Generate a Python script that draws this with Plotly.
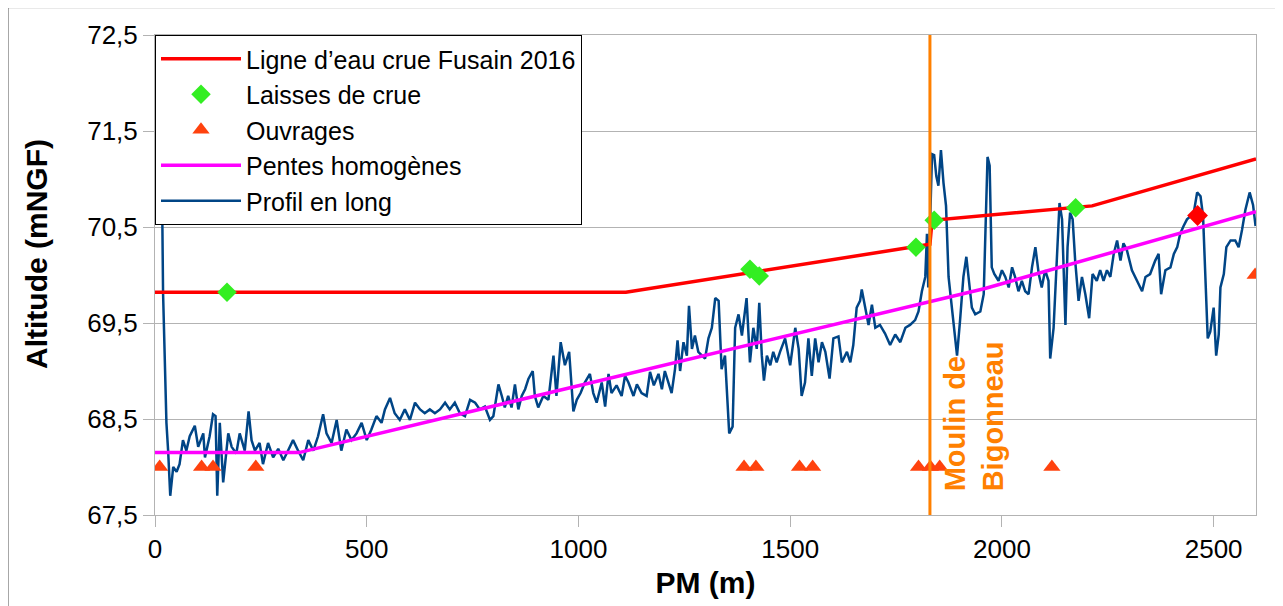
import plotly.graph_objects as go

# ---- Data ----
pm_crue = [0, 1112, 1830, 1835, 2213, 2600]
alt_crue = [69.82, 69.82, 70.32, 70.57, 70.72, 71.21]

pm_laisses = [170, 1405, 1427, 1797, 1840, 2174]
alt_laisses = [69.82, 70.06, 69.99, 70.29, 70.57, 70.70]

pm_laisse_rouge = [2462]
alt_laisse_rouge = [70.62]

pm_ouvrages = [11, 110, 137, 238, 1391, 1419, 1522, 1553, 1803, 1831, 1853, 2118, 2598]
alt_ouvrages = [68.0, 68.0, 68.0, 68.0, 68.0, 68.0, 68.0, 68.0, 68.0, 68.0, 68.0, 68.0, 70.0]

pm_pentes = [0, 340, 1960, 2600]
alt_pentes = [68.15, 68.15, 69.86, 70.66]

pm_profil = [12, 17, 19, 23, 27, 31, 36, 43, 51, 58, 66, 74, 82, 94, 102, 114, 118, 129, 137, 143,
             147, 153, 161, 173, 181, 192, 200, 212, 221, 228, 236, 247, 255, 267, 279, 291, 303, 314,
             326, 338, 350, 362, 374, 385, 397, 405, 417, 429, 440, 452, 464, 476, 488, 500, 511, 523,
             535, 543, 555, 566, 578, 590, 602, 614, 626, 637, 649, 661, 673, 685, 696, 708, 720, 732,
             744, 756, 767, 779,
             791, 799, 811, 819, 826, 834, 842, 850, 858, 866, 874, 882, 892, 897, 905, 917, 929, 941,
             948, 958, 968, 978, 988, 996, 1005, 1015, 1027, 1035, 1043, 1055, 1063, 1071, 1078, 1090,
             1102, 1110, 1118, 1130, 1138, 1149, 1161, 1169, 1178, 1189, 1197, 1204, 1220, 1228, 1234,
             1240, 1248, 1256, 1261, 1268, 1275, 1283, 1291, 1299, 1307, 1315, 1323, 1331, 1338, 1346,
             1356, 1364, 1370, 1378, 1386, 1397, 1405, 1413, 1421, 1427, 1433, 1438, 1445, 1453, 1460,
             1468, 1476, 1488, 1500, 1512, 1520, 1527, 1535, 1543, 1551, 1559, 1567, 1575, 1583, 1593,
             1602, 1614, 1622, 1634,
             1642, 1649, 1657, 1665, 1669, 1677, 1685, 1693, 1701, 1712, 1724, 1736, 1748, 1760, 1772,
             1783, 1795, 1803, 1811, 1819, 1823, 1826, 1829, 1832, 1835, 1840, 1845, 1850, 1856, 1862,
             1868, 1874, 1882, 1888, 1894, 1901, 1909, 1916, 1921, 1929, 1937, 1949, 1957, 1963, 1966,
             1971, 1976, 1982, 1992, 2000, 2008, 2016, 2024, 2031, 2039, 2047, 2055, 2063, 2071, 2079,
             2087, 2094, 2102, 2110, 2114, 2122, 2130, 2136, 2142, 2150, 2155, 2161, 2167, 2173, 2181,
             2189, 2197, 2206, 2214, 2224, 2232, 2240, 2248, 2256, 2264, 2272, 2280, 2287, 2295, 2307,
             2319, 2331, 2339, 2350, 2362, 2370, 2376, 2386, 2398, 2406, 2414, 2421, 2429, 2437, 2445,
             2453, 2461, 2469, 2475, 2480, 2486, 2492, 2500, 2506, 2512, 2516, 2524, 2530, 2540, 2551,
             2559, 2567, 2575, 2585, 2593, 2599]
alt_profil = [71.60, 70.72, 69.82, 69.16, 68.46, 68.17, 67.70, 68.00, 67.95, 68.03, 68.28, 68.17, 68.32,
              68.43, 68.21, 68.35, 68.10, 68.32, 68.55, 68.53, 67.70, 68.46, 67.84, 68.35, 68.21, 68.14,
              68.35, 68.17, 68.58, 68.28, 68.17, 68.25, 68.03, 68.25, 68.10, 68.19, 68.07, 68.17, 68.28,
              68.17, 68.07, 68.28, 68.17, 68.32, 68.55, 68.35, 68.25, 68.49, 68.17, 68.39, 68.28, 68.35,
              68.46, 68.28, 68.39, 68.53, 68.46, 68.60, 68.72, 68.56, 68.49, 68.60, 68.49, 68.67, 68.60,
              68.56, 68.60, 68.56, 68.60, 68.67, 68.60, 68.67, 68.56, 68.53, 68.70, 68.67, 68.60, 68.63,
              68.49, 68.53, 68.86, 68.74, 68.62, 68.74, 68.62, 68.86, 68.60, 68.74, 68.81, 68.92, 69.00,
              68.74, 68.62, 68.74, 68.70, 69.16, 68.74, 69.30, 69.06, 69.20, 68.58, 68.70, 68.77, 68.88,
              68.97, 68.77, 68.67, 68.88, 68.63, 68.97, 68.77, 68.85, 68.74, 68.95, 68.88, 68.74, 68.86,
              68.77, 68.74, 68.99, 68.85, 68.97, 68.81, 69.00, 68.77, 69.02, 69.32, 69.00, 69.30, 69.16,
              69.68, 69.23, 69.37, 69.20, 69.16, 69.13, 69.34, 69.45, 69.76, 69.73, 69.02, 69.16, 68.35,
              68.42, 69.45, 69.59, 69.37, 69.76, 69.09, 69.45, 69.23, 69.71, 69.16, 68.90, 69.16, 69.06,
              69.20, 69.09, 69.20, 69.34, 69.06, 69.45, 69.23, 68.74, 68.88, 69.34, 68.95, 69.34, 69.09,
              69.30, 69.20, 68.92, 69.34, 69.36, 69.09, 69.20,
              69.09, 69.27, 69.66, 69.73, 69.85, 69.66, 69.48, 69.69, 69.45, 69.48, 69.39, 69.27, 69.38,
              69.30, 69.45, 69.48, 69.53, 69.62, 69.83, 69.98, 70.43, 69.87, 70.43, 70.68, 71.26, 71.25,
              71.03, 70.93, 71.30, 70.96, 70.72, 69.98, 69.66, 69.45, 69.16, 69.52, 69.98, 70.19, 70.01,
              69.66, 69.59, 69.62, 69.80, 70.79, 71.23, 71.14, 70.08, 70.01, 69.94, 70.05, 69.98, 69.87,
              70.08, 69.98, 69.83, 69.94, 69.83, 69.80, 70.08, 70.29, 70.01, 69.87, 70.05, 69.94, 69.13,
              69.45, 70.26, 70.75, 70.58, 69.48, 70.29, 70.65, 70.58, 70.15, 69.73, 69.98, 69.80, 69.55,
              70.01, 69.94, 70.05, 69.94, 70.05, 69.98, 70.22, 70.36, 70.15, 70.33, 70.26, 70.05, 69.94,
              69.83, 69.98, 70.01, 70.15, 70.22, 69.80, 70.05, 70.08, 70.22, 70.29, 70.43, 70.51, 70.58,
              70.61, 70.65, 70.86, 70.82, 70.61, 70.08, 69.34, 69.41, 69.66, 69.16, 69.38, 69.87, 70.01,
              70.29, 70.36, 70.36, 70.29, 70.47, 70.68, 70.86, 70.73, 70.51]

moulin_pm = 1830
annot_pm = 1935
annot_alt = 67.73
annot_text = "Moulin de<br>Bigonneau"

x_ticks = [0, 500, 1000, 1500, 2000, 2500]
y_ticks = [67.5, 68.5, 69.5, 70.5, 71.5, 72.5]

FONT = "Liberation Sans, Arial, sans-serif"

fig = go.Figure()

fig.add_trace(go.Scatter(x=pm_profil, y=alt_profil, mode="lines", name="Profil en long",
                         line=dict(color="#004586", width=2.5), legendrank=5))
fig.add_trace(go.Scatter(x=pm_pentes, y=alt_pentes, mode="lines", name="Pentes homogènes",
                         line=dict(color="#ff00ff", width=3.5), legendrank=4))
fig.add_trace(go.Scatter(x=pm_crue, y=alt_crue, mode="lines", name="Ligne d’eau crue Fusain 2016",
                         line=dict(color="#ff0000", width=3.5), legendrank=1))
fig.add_trace(go.Scatter(x=pm_laisses, y=alt_laisses, mode="markers", name="Laisses de crue",
                         marker=dict(symbol="diamond", color="#33ee22", size=15), legendrank=2))
fig.add_trace(go.Scatter(x=pm_laisse_rouge, y=alt_laisse_rouge, mode="markers", showlegend=False,
                         marker=dict(symbol="diamond", color="#ff0000", size=16)))
fig.add_trace(go.Scatter(x=pm_ouvrages, y=alt_ouvrages, mode="markers", name="Ouvrages",
                         marker=dict(symbol="triangle-up", color="#ff420e", size=15), legendrank=3))

fig.add_shape(type="line", x0=moulin_pm, x1=moulin_pm, y0=0, y1=1, xref="x", yref="paper",
              line=dict(color="#ff8000", width=3), layer="above")

fig.add_annotation(x=annot_pm, y=annot_alt, xref="x", yref="y", text=annot_text, textangle=-90,
                   showarrow=False, xanchor="center", yanchor="bottom", align="left",
                   font=dict(family=FONT, size=29, color="#ff8000", weight="bold"))

# y-axis title (placed as annotation to match the original offset)
fig.add_annotation(x=-0.1075, y=0.543, xref="paper", yref="paper", text="<b>Altitude (mNGF)</b>",
                   textangle=-90, showarrow=False, xanchor="center", yanchor="middle",
                   font=dict(family=FONT, size=30, color="black"))

# outer frame
fig.add_shape(type="rect", xref="paper", yref="paper", x0=-0.1335, x1=1.0218, y0=-0.22, y1=1.057,
              line=dict(color="#555555", width=1), fillcolor="rgba(0,0,0,0)", layer="below")

fig.update_layout(
    width=1275, height=598,
    margin=dict(l=147, r=27, t=27, b=91),
    paper_bgcolor="white", plot_bgcolor="white",
    separators=", ",
    font=dict(family=FONT, color="black", size=26),
    showlegend=True,
    legend=dict(x=0, y=1, xanchor="left", yanchor="top", bgcolor="white",
                bordercolor="black", borderwidth=1, font=dict(family=FONT, size=25, color="black"),
                tracegroupgap=0, itemwidth=80),
    xaxis=dict(range=[0, 2600], tickvals=x_ticks, showgrid=False, showline=True,
               linecolor="#b3b3b3", linewidth=1, mirror=True, ticks="outside", ticklen=11,
               tickcolor="#b3b3b3", tickfont=dict(size=26), zeroline=False,
               title=dict(text="<b>PM (m)</b>", font=dict(size=30), standoff=8)),
    yaxis=dict(range=[67.5, 72.5], tickvals=y_ticks, tickformat=".1f", showgrid=True,
               gridcolor="#b3b3b3", gridwidth=1, showline=True, linecolor="#b3b3b3",
               linewidth=1, mirror=True, ticks="outside", ticklen=11, tickcolor="#b3b3b3",
               tickfont=dict(size=26), zeroline=False),
)

fig.write_html("out.html")
